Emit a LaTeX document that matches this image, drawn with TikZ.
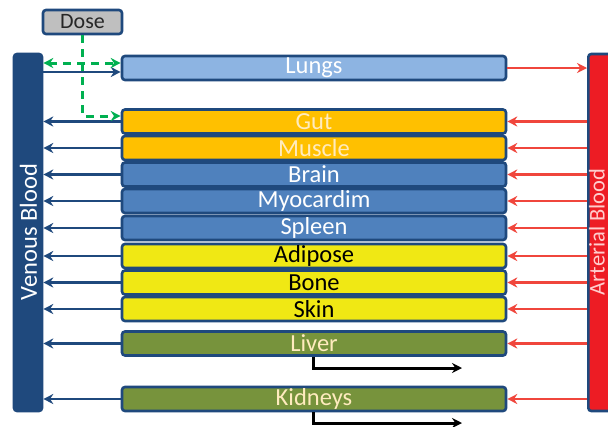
\documentclass[tikz,border=0pt]{standalone}
\usepackage{fontspec}
\setmainfont{Carlito}
\usetikzlibrary{arrows.meta,calc}
\definecolor{bord}{RGB}{31,73,125}
\definecolor{lungc}{RGB}{141,180,226}
\definecolor{orangec}{RGB}{255,192,0}
\definecolor{bluec}{RGB}{79,129,189}
\definecolor{yellc}{RGB}{240,232,20}
\definecolor{oliv}{RGB}{119,147,60}
\definecolor{artred}{RGB}{237,28,36}
\definecolor{arrred}{RGB}{240,70,60}
\definecolor{grn}{RGB}{0,176,80}
\definecolor{doseg}{RGB}{191,191,191}
\definecolor{cream}{RGB}{255,235,190}
\definecolor{pinkt}{RGB}{255,205,205}
\tikzset{
  organ/.style={draw=bord, line width=2.6pt, rounded corners=3pt, minimum width=384pt, minimum height=24pt, inner sep=0pt, font=\fontsize{24.5}{25}\selectfont},
  bar/.style={draw=bord, line width=2.6pt, rounded corners=3pt, inner sep=0pt},
  varr/.style={draw=bord, line width=2.8pt, -{Stealth[length=10pt,width=10pt]}},
  rarr/.style={draw=arrred, line width=2.8pt, -{Stealth[length=10pt,width=10pt]}},
  karr/.style={draw=black, line width=3pt, -{Stealth[length=10pt,width=10pt]}},
  garr/.style={draw=grn, line width=3pt, dash pattern=on 8pt off 6pt, -{Stealth[length=10pt,width=10pt]}},
}
\begin{document}
\begin{tikzpicture}[x=1pt,y=-1pt]
\useasboundingbox[fill=white] (0,0) rectangle (608,426);
% bars
\node[bar, fill=bord, minimum width=28pt, minimum height=357pt] (ven) at (28,232.5) {};
\node[rotate=90, text=white, inner sep=0pt, font=\fontsize{24.5}{25}\selectfont] (ventxt) at (28.5,232) {Venous Blood};
\begin{scope}
\clip (0,0) rectangle (608,426);
\node[bar, fill=artred, minimum width=23pt, minimum height=357pt, anchor=west] (art) at (587,232.5) {};
\end{scope}
\node[rotate=90, anchor=south, text=pinkt, inner sep=0pt, font=\fontsize{22.5}{23}\selectfont] (arttxt) at (605,232) {Arterial Blood};
% dose
\node[bar, fill=doseg, minimum width=79pt, minimum height=24pt, font=\fontsize{22}{23}\selectfont, text=black!85] (dose) at (82.5,22) {Dose};
% organs
\node[organ, fill=lungc, text=white] (lungs) at (314,68) {Lungs};
\node[organ, fill=orangec, text=cream] (gut) at (314,121.5) {Gut};
\node[organ, fill=orangec, text=cream] (muscle) at (314,148) {Muscle};
\node[organ, fill=bluec, text=white] (brain) at (314,174.5) {Brain};
\node[organ, fill=bluec, text=white] (myo) at (314,201) {Myocardim};
\node[organ, fill=bluec, text=white] (spleen) at (314,228) {Spleen};
\node[organ, fill=yellc, text=black] (adipose) at (314,256) {Adipose};
\node[organ, fill=yellc, text=black] (bone) at (314,282.5) {Bone};
\node[organ, fill=yellc, text=black] (skin) at (314,309) {Skin};
\node[organ, fill=oliv, text=cream] (liver) at (314,343.5) {Liver};
\node[organ, fill=oliv, text=cream] (kidneys) at (314,399) {Kidneys};
% venous -> lungs
\draw[varr] (ven.east |- 0,72) -- (lungs.west |- 0,72);
% organs -> venous, arterial -> organs
\foreach \o in {gut,muscle,brain,myo,spleen,adipose,bone,skin,liver,kidneys}{
  \draw[varr] (\o.west) -- (\o.west -| ven.east);
  \draw[rarr] (\o.east -| art.west) -- (\o.east);
}
% lungs -> arterial
\draw[rarr] (lungs.east) -- (lungs.east -| art.west);
% dose dashed
\draw[garr, {Stealth[length=10pt,width=10pt]}-{Stealth[length=10pt,width=10pt]}] (ven.east |- 0,63) -- (lungs.west |- 0,63);
\draw[garr] (dose.south) -- (dose.south |- 0,116) -- (gut.west |- 0,116);
% excretion
\coordinate (le) at (462,368);
\coordinate (ke) at (462,423);
\draw[karr] (liver.south -| 313,0) -- (313,368) -- (le);
\draw[karr] (kidneys.south -| 313,0) -- (313,423) -- (ke);
\end{tikzpicture}
\end{document}
